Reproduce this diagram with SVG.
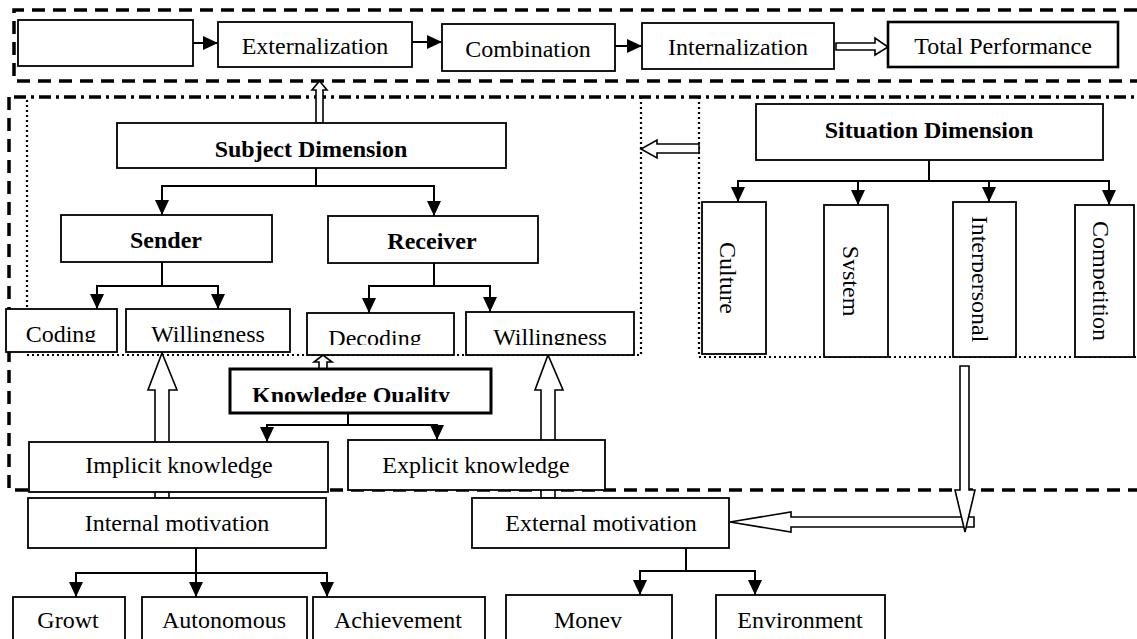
<svg xmlns="http://www.w3.org/2000/svg" width="1137" height="639" viewBox="0 0 1137 639">
<style>
.box{fill:#fff;stroke:#000;stroke-width:1.8}
.thick{stroke-width:3}
.t{font-family:"Liberation Serif","Times New Roman",serif;font-size:24px;text-anchor:middle;fill:#000}
.b{font-weight:bold}
.conn{fill:none;stroke:#000;stroke-width:2}
.hollow{fill:#fff;stroke:#000;stroke-width:1.6;stroke-linejoin:miter}
.dash{fill:none;stroke:#000;stroke-width:3.5;stroke-dasharray:13 8}
.dashdot{fill:none;stroke:#000;stroke-width:3.5;stroke-dasharray:12 5 3 5}
.dot{fill:none;stroke:#000;stroke-width:2.2;stroke-dasharray:2 3}
</style>
<defs>
<marker id="ah" markerUnits="userSpaceOnUse" markerWidth="15" markerHeight="14" viewBox="0 0 15 14" refX="15" refY="7" orient="auto">
<path d="M0,0 L15,7 L0,14 z" fill="#000"/>
</marker>
<clipPath id="cA"><rect x="0" y="300" width="300" height="42"/></clipPath>
<clipPath id="cB"><rect x="300" y="300" width="340" height="45"/></clipPath>
<clipPath id="cKQ"><rect x="230" y="369" width="261" height="33"/></clipPath>
<clipPath id="cSys"><rect x="843" y="200" width="45" height="160"/></clipPath>
<clipPath id="cInt"><rect x="972" y="200" width="44" height="160"/></clipPath>
<clipPath id="cCom"><rect x="1093" y="200" width="44" height="160"/></clipPath>
</defs>

<g id="frames">
<path class="dash" d="M1137,10 H14 V81 H1137"/>
<path class="dash" d="M9,97 V490 H1137"/>
<path class="dashdot" d="M14,97 H1137"/>
<path class="dot" d="M27,100 V355 H641 V97"/>
<path class="dot" d="M699,97 V357 H1137"/>
</g>

<g id="connectors">
<path class="conn" d="M193,43 H218" marker-end="url(#ah)"/>
<path class="conn" d="M412,42 H442" marker-end="url(#ah)"/>
<path class="conn" d="M615,46 H642" marker-end="url(#ah)"/>
<polygon class="hollow" points="836,43 875,43 875,38 888,47 875,55 875,50 836,50"/>
<polygon class="hollow" points="316,123 316,90 312,90 319.5,81 327,90 323,90 323,123"/>
<path class="conn" d="M316,168 V186"/>
<path class="conn" d="M316,186 H162 V215" marker-end="url(#ah)"/>
<path class="conn" d="M316,186 H434 V216" marker-end="url(#ah)"/>
<path class="conn" d="M162,262 V286"/>
<path class="conn" d="M162,286 H97 V309" marker-end="url(#ah)"/>
<path class="conn" d="M162,286 H218 V309" marker-end="url(#ah)"/>
<path class="conn" d="M434,263 V286"/>
<path class="conn" d="M434,286 H369 V313" marker-end="url(#ah)"/>
<path class="conn" d="M434,286 H490 V312" marker-end="url(#ah)"/>
<path class="conn" d="M929,160 V181"/>
<path class="conn" d="M929,181 H738 V202" marker-end="url(#ah)"/>
<path class="conn" d="M929,181 H858 V205" marker-end="url(#ah)"/>
<path class="conn" d="M929,181 H989 V202" marker-end="url(#ah)"/>
<path class="conn" d="M929,181 H1109 V205" marker-end="url(#ah)"/>
<polygon class="hollow" points="699,144 657,144 657,140 641,149 657,158 657,153 699,153"/>
<polygon class="hollow" points="319,369 319,362 314,362 323,355 332,362 327,362 327,369"/>
<path class="conn" d="M348,413 V425"/>
<path class="conn" d="M348,425 H267 V442" marker-end="url(#ah)"/>
<path class="conn" d="M348,425 H437 V440" marker-end="url(#ah)"/>
<polygon class="hollow" points="155,498 155,390 148,390 162,353 177,390 169,390 169,498"/>
<polygon class="hollow" points="541,498 541,390 535,390 548,355 563,390 555,390 555,498"/>
<polygon class="hollow" points="974,517 791,517 791,512 730,522 791,532 791,527 974,527"/>
<polygon class="hollow" points="960,366 969,366 969,490 975,490 965,532 955,490 960,490"/>
<path class="conn" d="M196,548 V597" marker-end="url(#ah)"/>
<path class="conn" d="M196,573 H76 V597" marker-end="url(#ah)"/>
<path class="conn" d="M196,573 H327 V597" marker-end="url(#ah)"/>
<path class="conn" d="M686,548 V571"/>
<path class="conn" d="M686,571 H640 V595" marker-end="url(#ah)"/>
<path class="conn" d="M686,571 H755 V595" marker-end="url(#ah)"/>
</g>

<g id="n-blank"><rect class="box" x="18" y="20" width="175" height="46"/></g>
<g id="n-externalization"><rect class="box" x="218" y="22" width="194" height="45"/><text class="t" x="315" y="54">Externalization</text></g>
<g id="n-combination"><rect class="box" x="442" y="24" width="173" height="47"/><text class="t" x="528" y="57">Combination</text></g>
<g id="n-internalization"><rect class="box" x="642" y="23" width="192" height="46"/><text class="t" x="738" y="55">Internalization</text></g>
<g id="n-total"><rect class="box" x="888" y="22" width="230" height="45" style="stroke-width:2.6"/><text class="t" x="1003" y="54">Total Performance</text></g>

<g id="n-subject"><rect class="box" x="117" y="123" width="389" height="45"/><text class="t b" x="311" y="157">Subject Dimension</text></g>
<g id="n-sender"><rect class="box" x="61" y="215" width="211" height="47"/><text class="t b" x="166" y="248">Sender</text></g>
<g id="n-receiver"><rect class="box" x="328" y="216" width="210" height="47"/><text class="t b" x="432" y="249">Receiver</text></g>
<g id="n-coding"><rect class="box" x="6" y="309" width="111" height="43"/><text class="t" x="61" y="342" clip-path="url(#cA)">Coding</text></g>
<g id="n-willingness-s"><rect class="box" x="126" y="309" width="164" height="43"/><text class="t" x="208" y="342" clip-path="url(#cA)">Willingness</text></g>
<g id="n-decoding"><rect class="box" x="307" y="313" width="147" height="42"/><text class="t" x="375" y="346" clip-path="url(#cB)">Decoding</text></g>
<g id="n-willingness-r"><rect class="box" x="466" y="312" width="168" height="43"/><text class="t" x="550" y="345" clip-path="url(#cB)">Willingness</text></g>

<g id="n-kq"><rect class="box thick" x="230" y="369" width="261" height="44"/><text class="t b" x="351" y="403" clip-path="url(#cKQ)">Knowledge Quality</text></g>
<g id="n-implicit"><rect class="box" x="29" y="442" width="299" height="50"/><text class="t" x="179" y="473">Implicit knowledge</text></g>
<g id="n-explicit"><rect class="box" x="348" y="440" width="257" height="50"/><text class="t" x="476" y="473">Explicit knowledge</text></g>
<g id="n-internal"><rect class="box" x="28" y="498" width="298" height="50"/><text class="t" x="177" y="531">Internal motivation</text></g>
<g id="n-external"><rect class="box" x="472" y="498" width="257" height="50"/><text class="t" x="601" y="531">External motivation</text></g>

<g id="n-growt"><rect class="box" x="13" y="597" width="112" height="50"/><text class="t" x="68" y="628">Growt</text></g>
<g id="n-autonomous"><rect class="box" x="142" y="597" width="165" height="50"/><text class="t" x="224" y="628">Autonomous</text></g>
<g id="n-achievement"><rect class="box" x="313" y="597" width="172" height="50"/><text class="t" x="398" y="628">Achievement</text></g>
<g id="n-money"><rect class="box" x="506" y="595" width="166" height="52"/><text class="t" x="588" y="628">Monev</text></g>
<g id="n-environment"><rect class="box" x="716" y="595" width="169" height="52"/><text class="t" x="800" y="628">Environment</text></g>

<g id="n-situation"><rect class="box" x="756" y="104" width="347" height="56"/><text class="t b" x="929" y="138">Situation Dimension</text></g>
<g id="n-culture"><rect class="box" x="702" y="202" width="64" height="152"/><text class="t" transform="translate(720,278) rotate(90)">Culture</text></g>
<g id="n-system"><rect class="box" x="824" y="205" width="64" height="152"/><g clip-path="url(#cSys)"><text class="t" transform="translate(843,281) rotate(90)">System</text></g></g>
<g id="n-interpersonal"><rect class="box" x="953" y="202" width="63" height="155"/><g clip-path="url(#cInt)"><text class="t" transform="translate(972,279) rotate(90)">Interpersonal</text></g></g>
<g id="n-competition"><rect class="box" x="1075" y="205" width="59" height="152"/><g clip-path="url(#cCom)"><text class="t" transform="translate(1093,281) rotate(90)">Competition</text></g></g>
</svg>
